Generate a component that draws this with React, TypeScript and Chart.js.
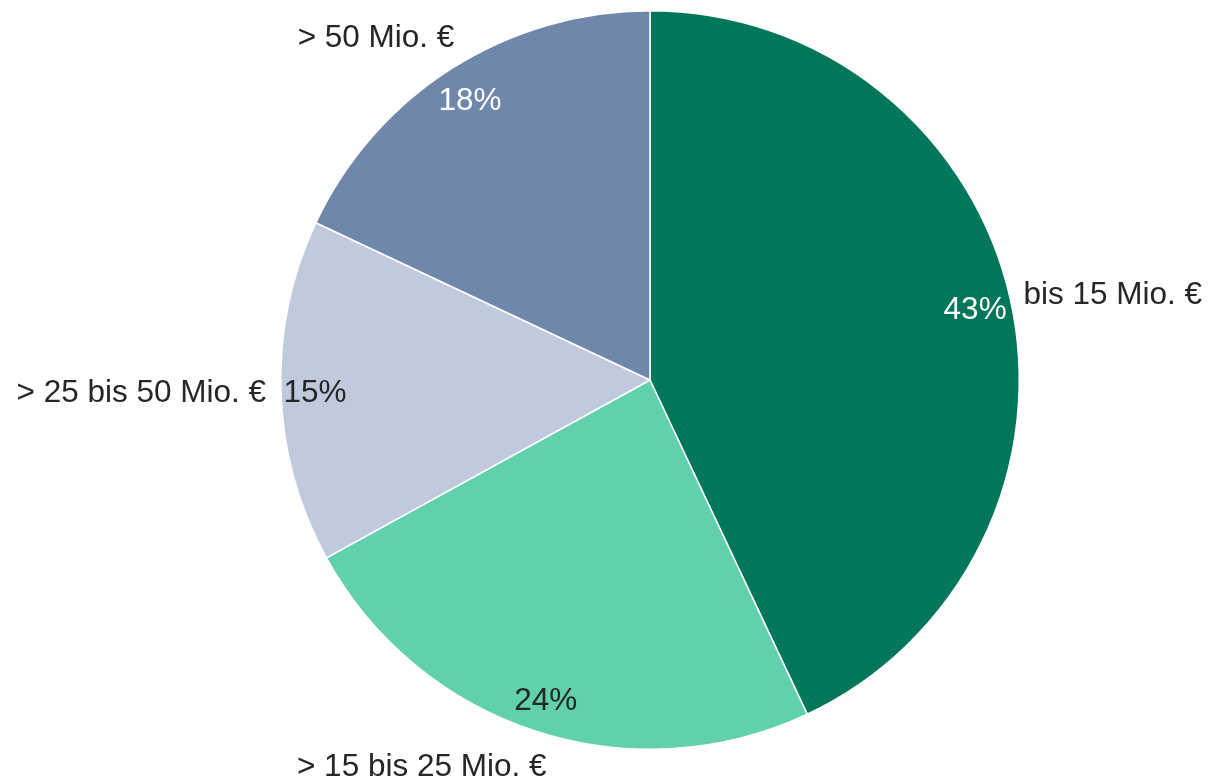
import React, { useEffect, useRef } from "react";
import { Chart, registerables } from "chart.js";

Chart.register(...registerables);

const categories = ["bis 15 Mio. €", "> 15 bis 25 Mio. €", "> 25 bis 50 Mio. €", "> 50 Mio. €"];
const shares = [43, 24, 15, 18];
const sliceColors = ["#00775A", "#60D0AD", "#C0CADC", "#6E87AB"];
const percentTextColors = ["#FFFFFF", "#262626", "#262626", "#FFFFFF"];

const labelPlugin = {
  id: "pieLabels",
  afterDatasetsDraw(chart: any) {
    const ctx = chart.ctx;
    const meta = chart.getDatasetMeta(0);
    ctx.save();
    ctx.font = '31.5px "Liberation Sans", Arial, sans-serif';
    ctx.textBaseline = "middle";
    meta.data.forEach((arc: any, i: number) => {
      const { x, y, startAngle, endAngle, outerRadius } = arc.getProps(
        ["x", "y", "startAngle", "endAngle", "outerRadius"],
        true
      );
      const mid = (startAngle + endAngle) / 2;
      const c = Math.cos(mid);
      const s = Math.sin(mid);
      // percent label inside
      const pr = outerRadius * 0.905;
      ctx.fillStyle = percentTextColors[i];
      ctx.textAlign = "center";
      ctx.fillText(shares[i] + "%", x + pr * c - 1, y + pr * s + 3);
      // category label outside
      const lr = outerRadius * 1.1;
      const lx = x + lr * c;
      const ly = y + lr * s;
      ctx.fillStyle = "#262626";
      if (c >= 0) {
        ctx.textAlign = "left";
        ctx.fillText(categories[i], lx - 23, ly + 4);
      } else {
        ctx.textAlign = "right";
        ctx.fillText(categories[i], lx + 22, ly + 1);
      }
    });
    ctx.restore();
  },
};

export default function App() {
  const ref = useRef<HTMLCanvasElement>(null);
  useEffect(() => {
    if (!ref.current) return;
    const chart = new Chart(ref.current, {
      type: "pie",
      data: {
        labels: categories,
        datasets: [
          {
            data: shares,
            backgroundColor: sliceColors,
            borderColor: "#FFFFFF",
            borderWidth: 1.5,
          },
        ],
      },
      options: {
        responsive: false,
        animation: false,
        devicePixelRatio: 1,
        layout: { padding: { left: 280, right: 189, top: 10, bottom: 28 } },
        plugins: {
          legend: { display: false },
          tooltip: { enabled: false },
        },
      },
      plugins: [labelPlugin],
    });
    return () => chart.destroy();
  }, []);
  return (
    <div style={{ position: "fixed", left: 0, top: 0, width: 1209, height: 778, background: "#fff" }}>
      <canvas ref={ref} width={1209} height={778} />
    </div>
  );
}
